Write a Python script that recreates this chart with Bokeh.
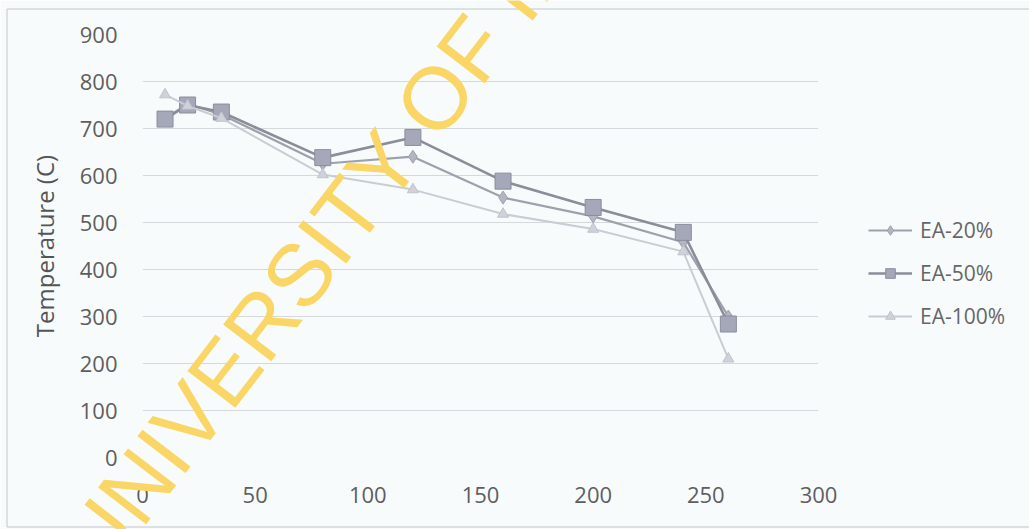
from bokeh.plotting import figure
from bokeh.models import Legend, LegendItem, FixedTicker, GridBox
from bokeh.embed import file_html
from bokeh.resources import INLINE
from bokeh.core.properties import value

# ---- data ----
x_20 = [10, 20, 35, 80, 120, 160, 200, 240, 260]
t_20 = [722, 752, 730, 625, 640, 553, 513, 458, 300]

x_50 = [10, 20, 35, 80, 120, 160, 200, 240, 260]
t_50 = [720, 750, 735, 638, 681, 588, 532, 479, 284]

x_100 = [10, 20, 35, 80, 120, 160, 200, 240, 260]
t_100 = [772, 748, 722, 602, 570, 518, 486, 438, 210]

series_names = ["EA-20%", "EA-50%", "EA-100%"]
y_ticks = [0, 100, 200, 300, 400, 500, 600, 700, 800, 900]
x_ticks = [0, 50, 100, 150, 200, 250, 300]
y_label = "Temperature (C)"
watermark = "UNIVERSITY OF IBADAN"

W, H = 1029, 529
BG = "#f8fbfb"
FONT = "Open Sans"

p = figure(
    frame_width=676, frame_height=423,
    min_border_left=142, min_border_right=211,
    min_border_top=34, min_border_bottom=72,
    x_range=(0, 300), y_range=(0, 900),
    output_backend="svg", toolbar_location=None,
    background_fill_color=BG, border_fill_color=BG,
)
p.outline_line_color = None
p.frame_align = False

# axes
p.xaxis.ticker = FixedTicker(ticks=x_ticks)
p.yaxis.ticker = FixedTicker(ticks=y_ticks)
for ax in (p.xaxis[0], p.yaxis[0]):
    ax.axis_line_color = None
    ax.major_tick_line_color = None
    ax.minor_tick_line_color = None
    ax.major_label_text_font = FONT
    ax.major_label_text_font_size = "22px"
    ax.major_label_text_color = "#5e5e5e"
p.xaxis.major_label_standoff = 23
p.yaxis.major_label_standoff = 19
p.yaxis.axis_label = y_label
p.yaxis.axis_label_text_font = FONT
p.yaxis.axis_label_text_font_size = "24px"
p.yaxis.axis_label_text_font_style = "normal"
p.yaxis.axis_label_text_color = "#555555"
p.yaxis.axis_label_standoff = 16

p.xgrid.grid_line_color = None
p.ygrid.grid_line_color = "#d6d9dc"
p.ygrid.grid_line_width = 1

# series
l20 = p.line(x_20, t_20, line_color="#9da1ab", line_width=2.2)
m20 = p.scatter(x_20, t_20, marker="diamond", size=13, fill_color="#b3b6c2",
                line_color="#9da1ab", line_width=1)

l50 = p.line(x_50, t_50, line_color="#8a8e99", line_width=2.6)
m50 = p.scatter(x_50, t_50, marker="square", size=16, fill_color="#a5a8b8",
                line_color="#8a8e9c", line_width=1)

l100 = p.line(x_100, t_100, line_color="#c9ccd2", line_width=2)
m100 = p.scatter(x_100, t_100, marker="triangle", size=11, fill_color="#cfd2da",
                 line_color="#c0c3cc", line_width=1)

legend = Legend(
    items=[
        LegendItem(label=series_names[0], renderers=[l20, m20]),
        LegendItem(label=series_names[1], renderers=[l50, m50]),
        LegendItem(label=series_names[2], renderers=[l100, m100]),
    ],
    location=(50, 127),
    orientation="vertical",
)
legend.border_line_color = None
legend.background_fill_alpha = 0
legend.margin = 0
legend.padding = 0
legend.spacing = 15
legend.glyph_width = 44
legend.glyph_height = 24
legend.label_height = 24
legend.label_standoff = 8
legend.label_text_font = FONT
legend.label_text_font_size = "21px"
legend.label_text_color = "#666666"
p.add_layout(legend, "right")

# transparent overlay figure: chart-area border and the watermark
wm = figure(
    width=W, height=H, x_range=(0, W), y_range=(0, H),
    x_axis_type=None, y_axis_type=None, min_border=0,
    output_backend="svg", toolbar_location=None,
)
wm.frame_align = False
wm.background_fill_alpha = 0
wm.border_fill_alpha = 0
wm.outline_line_color = None
wm.grid.visible = False
wm.quad(left=[6.5], right=[W + 5], bottom=[H - 526.5], top=[H - 8.5],
        fill_alpha=0, line_color="#c2c6c9", line_width=1)
wm.text(x=[391], y=[375], text=[watermark], angle=0.916,
        text_font=value("Liberation Sans"), text_font_size="88px",
        text_color="#f9d666", text_align="center", text_baseline="middle")

layout = GridBox(children=[(p, 0, 0), (wm, 0, 0)])

open("out.html", "w").write(file_html(layout, INLINE))
